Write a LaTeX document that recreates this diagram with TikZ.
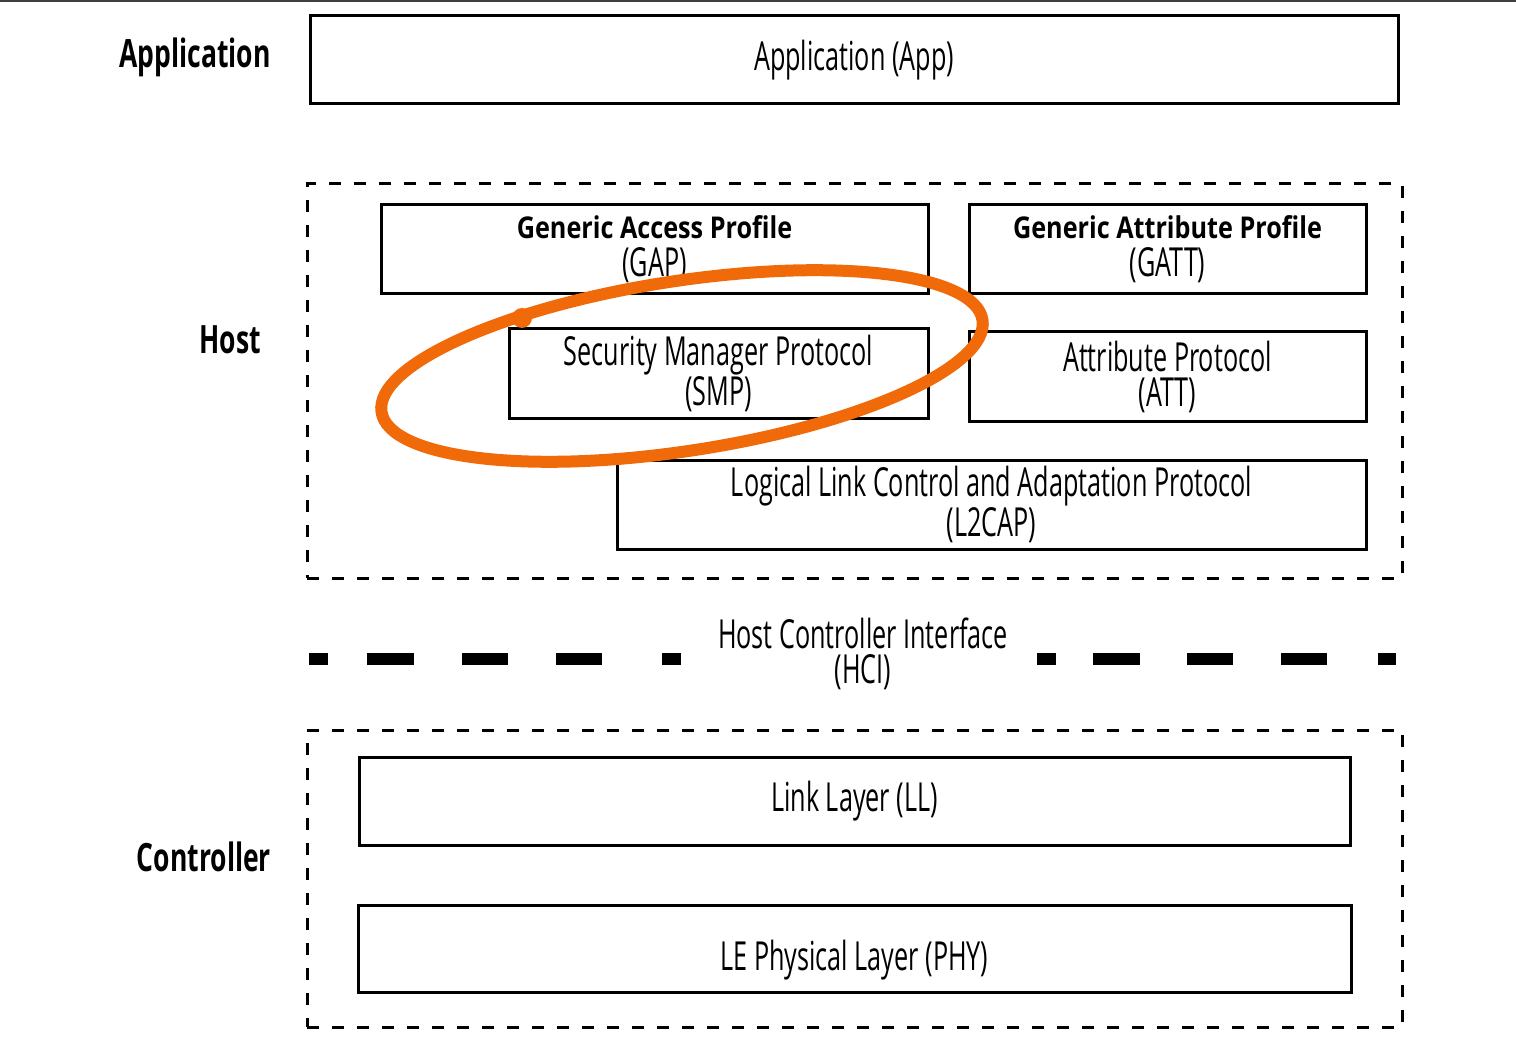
\documentclass[tikz,border=0pt]{standalone}
\usepackage{fontspec}
\setmainfont{Open Sans}
\newfontfamily\condfont[FakeStretch=0.63]{Open Sans}
\newfontfamily\semifont[FakeStretch=0.84]{Open Sans}
\newfontfamily\layerfont[FakeStretch=0.68]{Open Sans}
\definecolor{smporange}{RGB}{240,106,10}

\begin{document}
\begin{tikzpicture}[x=0.5pt,y=-0.5pt,
  box/.style={draw,line width=1.5pt,inner sep=0pt,align=center,
    font=\condfont\fontsize{20}{17.5}\selectfont},
  group/.style={draw,line width=1.5pt,dash pattern=on 6pt off 6.5pt,
    minimum width=547.5pt},
  layer/.style={font=\layerfont\bfseries\fontsize{19.5}{22}\selectfont},
  hcidash/.style={line width=6pt}]
  \useasboundingbox (0,0) rectangle (1516,1048);
  \draw[line width=1pt,black!75] (0,0.8) -- (1516,0.8);

  % layer names
  \node[layer] (lapp) at (195,57) {Application};
  \node[layer] (lhost) at (230,340) {Host};
  \node[layer] (lctrl) at (204,857) {Controller};

  % groups
  \node[group,minimum height=197pt] (host) at (854.5,381) {};
  \node[group,minimum height=148.5pt] (ctrl) at (854.5,878.5) {};

  % boxes
  \node[box,minimum width=544pt,minimum height=44pt] (app) at (854,60)
    {Application (App)};
  \node[box,minimum width=273.5pt,minimum height=44.5pt] (gap) at (654.5,249.5)
    {{\semifont\bfseries\fontsize{15}{15}\selectfont Generic Access Profile}\\[1.5pt](GAP)};
  \node[box,minimum width=198.5pt,minimum height=44.5pt] (gatt) at (1167.5,249.5)
    {{\semifont\bfseries\fontsize{15}{15}\selectfont Generic Attribute Profile}\\[1.5pt](GATT)};
  \node[box,minimum width=209.5pt,minimum height=44.5pt] (smp) at (718.5,373.5)
    {Security Manager Protocol\\(SMP)};
  \node[box,minimum width=198.5pt,minimum height=44.5pt] (att) at (1167.5,376.5)
    {Attribute Protocol\\(ATT)};
  \node[box,minimum width=374.5pt,minimum height=44.5pt] (l2cap) at (991.5,504.5)
    {Logical Link Control and Adaptation Protocol\\(L2CAP)};
  \node[box,minimum width=495.5pt,minimum height=44pt] (ll) at (854.5,801)
    {Link Layer (LL)};
  \node[box,minimum width=496.5pt,minimum height=43.5pt,
    text height=22pt,text depth=0pt] (phy) at (854.5,948.5)
    {LE Physical Layer (PHY)};

  % HCI
  \node[box,draw=none] (hci) at (863,654) {Host Controller Interface\\(HCI)};
  \foreach \a/\b in {309/328,367/414,462/508,556/602,662/681,
                     1037/1056,1093/1140,1187/1233,1281/1327,1378/1396}
    \draw[hcidash] (\a,659) -- (\b,659);

  % SMP highlight
  \draw[smporange,line width=6pt,rotate around={8.7:(682,366)}]
    (682,366) ellipse [x radius=304,y radius=85];
  \fill[smporange] (522,318) circle (5pt);
\end{tikzpicture}
\end{document}
